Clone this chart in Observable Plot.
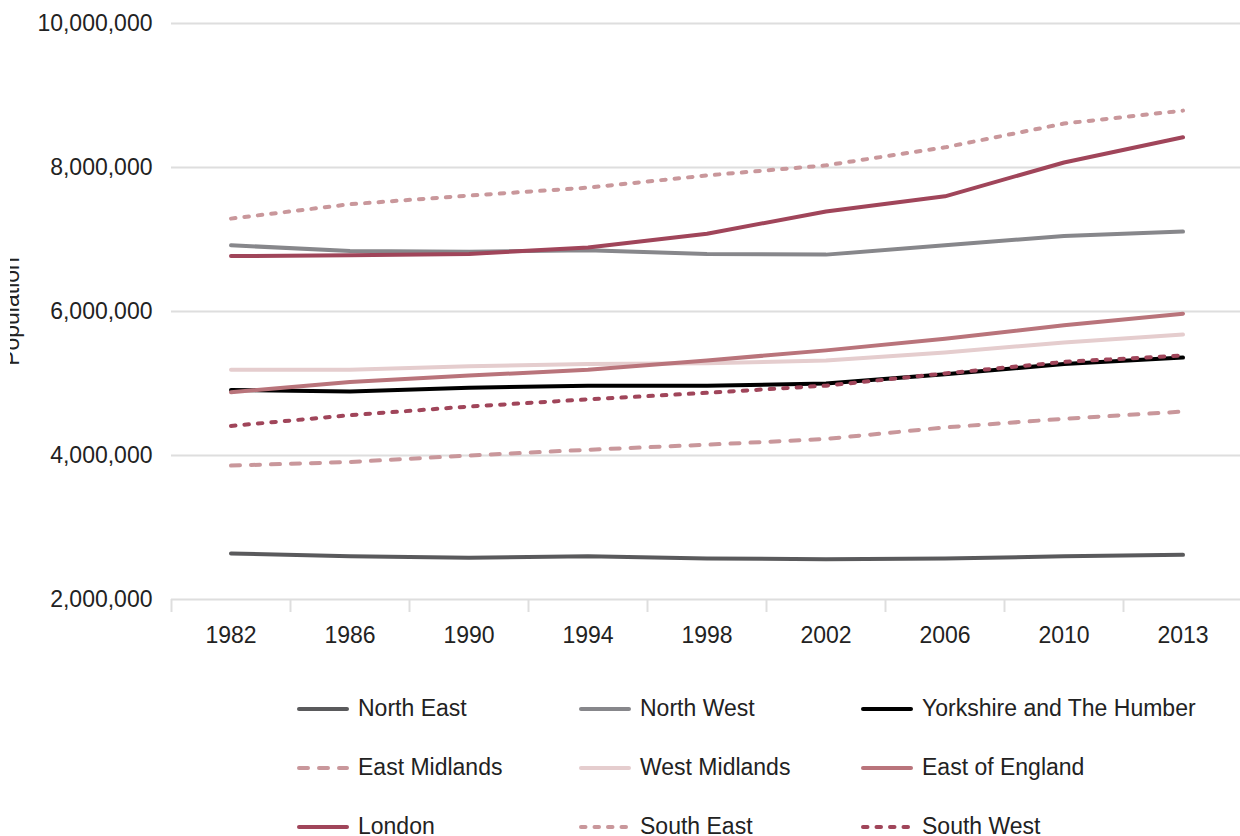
<!DOCTYPE html>
<html>
<head>
<meta charset="utf-8">
<script src="https://cdn.jsdelivr.net/npm/d3@7"></script>
<script src="https://cdn.jsdelivr.net/npm/@observablehq/plot@0.6"></script>
<style>
  html, body { margin: 0; padding: 0; background: white; }
  body { width: 1240px; height: 836px; overflow: hidden; font-family: "Liberation Sans", Arial, sans-serif; }
  #chart { margin-left: 10px; width: 1232px; }
  #legend { position: relative; margin-top: 19px; padding-left: 297px; display: grid; grid-template-columns: 282px 282px 282px; }
  .item { height: 59px; display: flex; align-items: center; font-size: 23px; color: #222; white-space: nowrap; }
  .item svg { margin-right: 9px; flex: none; }
</style>
</head>
<body>
<div id="chart"></div>
<div id="legend"></div>
<script>
const years = ["1982", "1986", "1990", "1994", "1998", "2002", "2006", "2010", "2013"];
const regions = ["North East", "North West", "Yorkshire and The Humber", "East Midlands", "West Midlands", "East of England", "London", "South East", "South West"];

const northEast     = [2.64, 2.60, 2.58, 2.60, 2.57, 2.56, 2.57, 2.60, 2.62];
const northWest     = [6.92, 6.84, 6.83, 6.85, 6.80, 6.79, 6.92, 7.05, 7.11];
const yorkshire     = [4.91, 4.89, 4.94, 4.97, 4.97, 5.00, 5.13, 5.27, 5.36];
const eastMidlands  = [3.86, 3.91, 4.00, 4.08, 4.15, 4.23, 4.39, 4.51, 4.61];
const westMidlands  = [5.19, 5.19, 5.24, 5.27, 5.28, 5.32, 5.43, 5.57, 5.68];
const eastOfEngland = [4.88, 5.02, 5.11, 5.19, 5.32, 5.46, 5.62, 5.81, 5.97];
const london        = [6.77, 6.78, 6.80, 6.89, 7.08, 7.39, 7.60, 8.07, 8.42];
const southEast     = [7.29, 7.49, 7.61, 7.72, 7.89, 8.03, 8.28, 8.61, 8.79];
const southWest     = [4.41, 4.56, 4.68, 4.78, 4.87, 4.97, 5.14, 5.30, 5.39];

const yTicks = [2000000, 4000000, 6000000, 8000000, 10000000];

const seriesValues = [northEast, northWest, yorkshire, eastMidlands, westMidlands, eastOfEngland, london, southEast, southWest];
const colors = ["#5a5a5c", "#87878b", "#000000", "#c9979b", "#e5cdce", "#b9747b", "#a0455a", "#c9979b", "#a0455a"];
const dashes = [null, null, null, "9 11", null, null, null, "4.5 9", "4.5 9"];

const data = regions.flatMap((region, i) =>
  years.map((year, j) => ({region, year, value: seriesValues[i][j] * 1e6}))
);

const W = 1232, ML = 161, MR = 0;
const step = (W - ML - MR) / years.length;

const chart = Plot.plot({
  width: W,
  height: 660,
  marginLeft: ML,
  marginRight: MR,
  marginTop: 23,
  marginBottom: 61,
  style: {fontFamily: "'Liberation Sans', Arial, sans-serif", fontSize: "23px", color: "#222", background: "white", overflow: "hidden", maxWidth: "none"},
  x: {type: "point", domain: years, padding: 0.5, round: false},
  y: {domain: [2000000, 10000000]},
  marks: [
    Plot.gridY(yTicks, {stroke: "#dedede", strokeOpacity: 1, strokeWidth: 2}),
    Plot.axisY(yTicks, {tickSize: 0, tickPadding: 19, tickFormat: d3.format(","), label: "Population", labelArrow: "none", labelAnchor: "center", labelOffset: 169, fill: "#222"}),
    Plot.axisX({tickSize: 13, tickFormat: () => "", dx: -step / 2, stroke: "#dedede", strokeWidth: 2, strokeOpacity: 1, label: null}),
    Plot.axisX({tickSize: 0, tickPadding: 27, label: null, fill: "#222"}),
    ...regions.map((r, i) => Plot.line(data.filter(d => d.region === r), {
      x: "year", y: "value",
      stroke: colors[i], strokeWidth: 4,
      strokeDasharray: dashes[i] ?? undefined,
      strokeLinecap: "round", strokeLinejoin: "round"
    }))
  ]
});
document.getElementById("chart").appendChild(chart);

const legend = document.getElementById("legend");
regions.forEach((r, i) => {
  const item = document.createElement("div");
  item.className = "item";
  const dash = dashes[i] ? ` stroke-dasharray="${dashes[i]}"` : "";
  item.innerHTML = `<svg width="52" height="10"><line x1="2" y1="5" x2="50" y2="5" stroke="${colors[i]}" stroke-width="4" stroke-linecap="round"${dash}/></svg><span>${r}</span>`;
  legend.appendChild(item);
});
</script>
</body>
</html>
